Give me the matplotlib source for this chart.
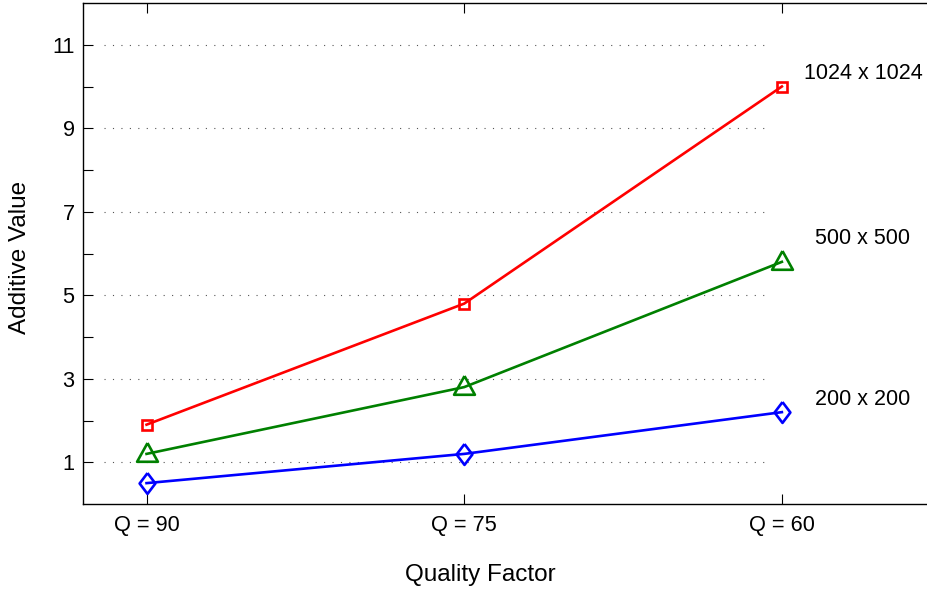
import matplotlib
matplotlib.use("Agg")
import matplotlib.pyplot as plt
import numpy as np

plt.rcParams['font.family'] = ['Liberation Sans', 'DejaVu Sans']

categories = ["Q = 90", "Q = 75", "Q = 60"]
series_names = ["1024 x 1024", "500 x 500", "200 x 200"]
vals_1024 = [1.9, 4.8, 10.0]
vals_500 = [1.2, 2.8, 5.8]
vals_200 = [0.5, 1.2, 2.2]
colors = ["#ff0000", "#008000", "#0000ff"]
label_y = [10.3, 6.35, 2.5]
label_x = [2.07, 2.105, 2.105]

fig = plt.figure(figsize=(9.28, 5.92), dpi=100)
ax = fig.add_axes([83/928, 88/592, 1.0 - 83/928, (504-3)/592])

x = np.arange(len(categories))

tri = [(0, 11), (-10, -7), (10, -7), (0, 11)]
dia = [(0, 9.5), (7.2, 0), (0, -9.5), (-7.2, 0), (0, 9.5)]
markers = ['s', tri, dia]
msizes = [6.8, 16.5, 15]

# gridlines (dotted, limited span)
for yv in [1, 3, 5, 7, 9, 11]:
    ax.plot([-0.135, 1.965], [yv, yv], linestyle=(0, (1, 6.6)), color='#555555',
            linewidth=0.8, zorder=1)

for vals, c, m, ms, name, lx, ly in zip([vals_1024, vals_500, vals_200], colors,
                                         markers, msizes, series_names, label_x, label_y):
    ax.plot(x, vals, color=c, linewidth=1.9, marker=m, markersize=ms,
            markerfacecolor='none', markeredgecolor=c, markeredgewidth=1.9, zorder=3)
    ax.text(lx, ly, name, fontsize=15.5, ha='left', va='center')

ax.set_xlim(-0.2, 2.46)
ax.set_ylim(0, 12)
ax.set_xticks(x)
ax.set_xticklabels(categories, fontsize=15.7)
ax.set_yticks([1, 3, 5, 7, 9, 11])
ax.set_yticklabels(['1', '3', '5', '7', '9', '11'], fontsize=15.7)
ax.set_yticks([2, 4, 6, 8, 10], minor=True)
ax.tick_params(axis='both', which='both', direction='in', length=7, width=0.8,
               top=True, right=False)
ax.tick_params(axis='x', pad=8)
ax.tick_params(axis='y', pad=6)
ax.spines['right'].set_visible(False)
for s in ['left', 'bottom', 'top']:
    ax.spines[s].set_linewidth(1.0)

ax.set_xlabel("Quality Factor", fontsize=17.5, va='center', ha='center')
ax.xaxis.set_label_coords(0.47, -0.142)
ax.set_ylabel("Additive Value", fontsize=17.5, va='center', ha='center')
ax.yaxis.set_label_coords(-0.074, 0.493)

fig.savefig("out.png", dpi=100)
